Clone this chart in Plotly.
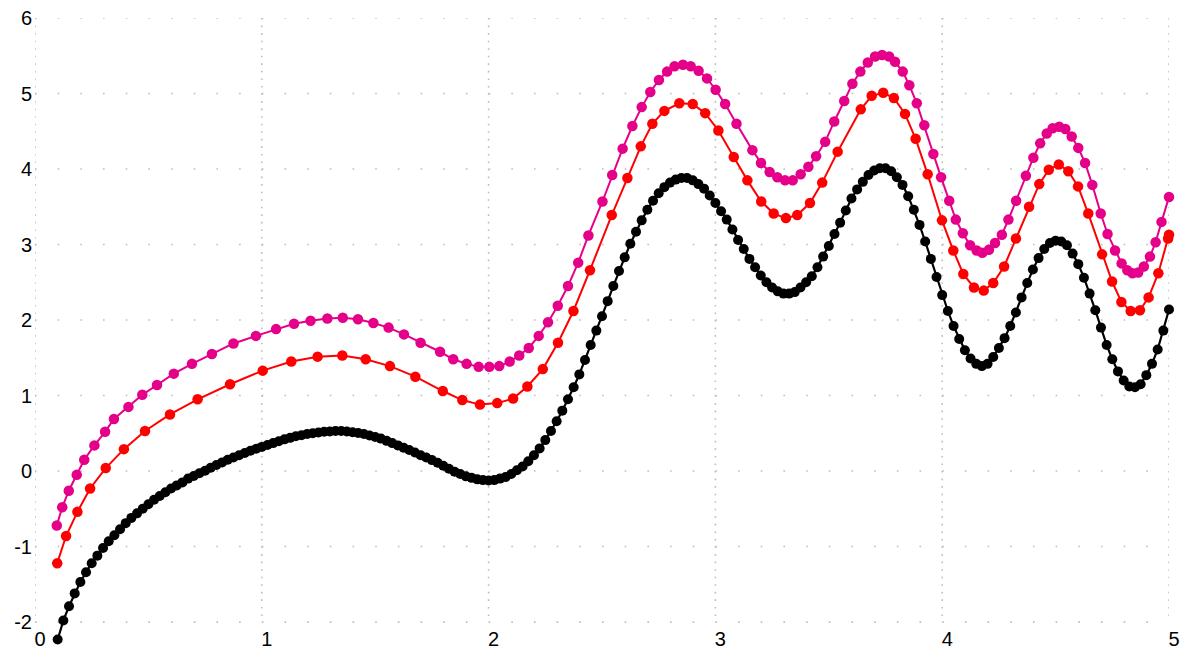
import plotly.graph_objects as go

# ---------------- data ----------------
# black series: uniformly sampled, first x = 0.1, step 0.025, last x = 5.0
black_x0 = 0.1
black_dx = 0.025
black_y = [
    -2.23, -1.98, -1.79, -1.62, -1.47, -1.34, -1.22, -1.12, -1.02, -0.93,
    -0.85, -0.77, -0.69, -0.62, -0.56, -0.50, -0.44, -0.38, -0.33, -0.28,
    -0.23, -0.19, -0.15, -0.10, -0.065, -0.03, 0.005, 0.045, 0.08, 0.115,
    0.15, 0.18, 0.21, 0.24, 0.27, 0.295,
    0.32, 0.345, 0.37, 0.395, 0.42, 0.44, 0.46, 0.475, 0.49, 0.50,
    0.51, 0.52, 0.525, 0.53, 0.53, 0.525, 0.515, 0.505, 0.49, 0.47,
    0.45, 0.43, 0.40, 0.37, 0.34, 0.31, 0.28, 0.245, 0.21, 0.18,
    0.145, 0.11, 0.07, 0.03, -0.01, -0.04, -0.07, -0.09, -0.11, -0.12,
    -0.125, -0.12, -0.10, -0.08, -0.04, 0.01, 0.06, 0.13, 0.21, 0.30,
    0.41, 0.53, 0.66, 0.80, 0.95, 1.11, 1.28, 1.47, 1.67, 1.86,
    2.05, 2.25, 2.45, 2.65, 2.83, 3.01, 3.17, 3.32, 3.46, 3.58,
    3.68, 3.76, 3.82, 3.86, 3.88, 3.88, 3.85, 3.80, 3.74, 3.65,
    3.55, 3.44, 3.33, 3.20, 3.06, 2.94, 2.81, 2.70, 2.59, 2.50,
    2.43, 2.38, 2.35, 2.35, 2.37, 2.43, 2.50, 2.58, 2.70, 2.84,
    2.98, 3.14, 3.29, 3.45, 3.61, 3.73, 3.83, 3.92, 3.98, 4.01,
    4.01, 3.97, 3.89, 3.79, 3.64, 3.46, 3.26, 3.04, 2.81, 2.57,
    2.33, 2.12, 1.92, 1.75, 1.60, 1.49, 1.42, 1.39, 1.42, 1.51,
    1.63, 1.76, 1.92, 2.10, 2.30, 2.49, 2.67, 2.82, 2.94, 3.02,
    3.05, 3.04, 2.99, 2.88, 2.74, 2.56, 2.35, 2.13, 1.90, 1.67,
    1.48, 1.32, 1.20, 1.12, 1.11, 1.15, 1.27, 1.42, 1.61, 1.86,
    2.14,
]

red_x = [
    0.098, 0.137, 0.187, 0.243, 0.312, 0.392, 0.485, 0.595, 0.717, 0.86,
    1.004, 1.13, 1.246, 1.355, 1.458, 1.565, 1.677, 1.798, 1.884, 1.962,
    2.038, 2.108, 2.171, 2.239, 2.306, 2.374, 2.447, 2.543, 2.612, 2.671,
    2.722, 2.775, 2.841, 2.9, 2.955, 3.013, 3.081, 3.141, 3.202, 3.257,
    3.311, 3.361, 3.417, 3.471, 3.539, 3.641, 3.689, 3.74, 3.787, 3.836,
    3.883, 3.936, 3.999, 4.049, 4.093, 4.14, 4.183, 4.225, 4.273, 4.325,
    4.383, 4.428, 4.47, 4.514, 4.556, 4.599, 4.644, 4.705, 4.749, 4.79,
    4.831, 4.872, 4.91, 4.953, 4.996, 5.0,
]
red_y = [
    -1.22, -0.86, -0.54, -0.23, 0.04, 0.29, 0.53, 0.75, 0.95, 1.15,
    1.33, 1.45, 1.515, 1.53, 1.48, 1.39, 1.25, 1.06, 0.94, 0.88,
    0.90, 0.96, 1.12, 1.35, 1.70, 2.12, 2.66, 3.39, 3.88, 4.30,
    4.60, 4.77, 4.87, 4.86, 4.74, 4.51, 4.16, 3.85, 3.57, 3.41,
    3.35, 3.39, 3.55, 3.82, 4.23, 4.79, 4.97, 5.01, 4.94, 4.73,
    4.40, 3.93, 3.32, 2.92, 2.61, 2.43, 2.39, 2.49, 2.71, 3.08,
    3.50, 3.80, 3.99, 4.06, 3.97, 3.77, 3.41, 2.87, 2.51, 2.24,
    2.12, 2.13, 2.30, 2.62, 3.08, 3.13,
]

magenta_x = [
    0.096, 0.12, 0.149, 0.184, 0.217, 0.262, 0.309, 0.348, 0.412, 0.473,
    0.538, 0.612, 0.692, 0.78, 0.875, 0.974, 1.063, 1.142, 1.215, 1.289,
    1.357, 1.424, 1.492, 1.559, 1.627, 1.70, 1.786, 1.844, 1.903, 1.956,
    2.003, 2.047, 2.093, 2.135, 2.177, 2.221, 2.262, 2.305, 2.35, 2.395,
    2.44, 2.502, 2.545, 2.591, 2.634, 2.675, 2.713, 2.751, 2.787, 2.82,
    2.857, 2.891, 2.926, 2.963, 3.001, 3.043, 3.093, 3.163, 3.201, 3.239,
    3.273, 3.307, 3.341, 3.376, 3.41, 3.444, 3.484, 3.524, 3.568, 3.604,
    3.639, 3.672, 3.704, 3.735, 3.766, 3.792, 3.826, 3.855, 3.888, 3.921,
    3.961, 3.995, 4.031, 4.06, 4.091, 4.123, 4.152, 4.177, 4.206, 4.233,
    4.263, 4.292, 4.326, 4.369, 4.402, 4.432, 4.461, 4.487, 4.516, 4.543,
    4.571, 4.6, 4.63, 4.662, 4.699, 4.729, 4.762, 4.791, 4.816, 4.839,
    4.864, 4.889, 4.916, 4.941, 4.967, 5.0,
]
magenta_y = [
    -0.72, -0.48, -0.26, -0.05, 0.15, 0.34, 0.52, 0.69, 0.85, 1.01,
    1.14, 1.29, 1.42, 1.55, 1.69, 1.79, 1.88, 1.95, 1.99, 2.02,
    2.03, 2.01, 1.96, 1.90, 1.81, 1.70, 1.58, 1.48, 1.42, 1.38,
    1.38, 1.39, 1.45, 1.53, 1.63, 1.79, 1.97, 2.19, 2.45, 2.76,
    3.12, 3.57, 3.92, 4.27, 4.57, 4.82, 5.02, 5.18, 5.29, 5.36,
    5.38, 5.36, 5.30, 5.20, 5.05, 4.86, 4.60, 4.25, 4.08, 3.96,
    3.89, 3.85, 3.85, 3.93, 4.03, 4.17, 4.36, 4.63, 4.90, 5.13,
    5.29, 5.41, 5.49, 5.51, 5.49, 5.42, 5.29, 5.11, 4.87, 4.58,
    4.20, 3.89, 3.58, 3.33, 3.15, 2.99, 2.92, 2.89, 2.93, 3.02,
    3.13, 3.33, 3.58, 3.91, 4.15, 4.34, 4.47, 4.54, 4.56, 4.53,
    4.43, 4.28, 4.08, 3.79, 3.41, 3.14, 2.92, 2.75, 2.66, 2.62,
    2.63, 2.71, 2.84, 3.03, 3.30, 3.63,
]

x_ticks = [0, 1, 2, 3, 4, 5]
y_ticks = [-2, -1, 0, 1, 2, 3, 4, 5, 6]

# ---------------- figure ----------------
BLACK = "#000000"
RED = "#ff0000"
MAGENTA = "#e5008a"

W, H = 1184, 649
X_MIN, X_MAX = 0, 5
Y_MIN, Y_MAX = -2, 6
Y_EXTRA = 0.33              # room below y=-2 so the first black point is kept
ML, MR, MT = 35, 15, 18
unit_y = (H - MT - 27) / (Y_MAX - Y_MIN)       # px per y unit (y=-2 at 27px above bottom)
MB = 27 - Y_EXTRA * unit_y
unit_x = (W - ML - MR) / (X_MAX - X_MIN)
y_lo = Y_MIN - Y_EXTRA

fig = go.Figure()

fig.add_trace(go.Scatter(
    x0=black_x0, dx=black_dx, y=black_y, mode="lines+markers",
    line=dict(color=BLACK, width=2.2),
    marker=dict(color=BLACK, size=10),
    cliponaxis=False, showlegend=False,
))
fig.add_trace(go.Scatter(
    x=red_x, y=red_y, mode="lines+markers",
    line=dict(color=RED, width=2),
    marker=dict(color=RED, size=10.5),
    cliponaxis=False, showlegend=False,
))
fig.add_trace(go.Scatter(
    x=magenta_x, y=magenta_y, mode="lines+markers",
    line=dict(color=MAGENTA, width=2),
    marker=dict(color=MAGENTA, size=10.5),
    cliponaxis=False, showlegend=False,
))

# dotted grid: one dot every 0.1 unit along each integer line
grid_col = "#bdbdbd"
dot = 1.6
h_dash = f"{dot}px,{unit_x / 10 - dot:.3f}px"
v_dash = f"{dot}px,{unit_y / 10 - dot:.3f}px"
shapes = []
for yv in y_ticks:
    shapes.append(dict(type="line", xref="x", yref="y", x0=X_MIN, x1=X_MAX, y0=yv, y1=yv,
                       line=dict(color=grid_col, width=dot, dash=h_dash), layer="below"))
for xv in x_ticks:
    shapes.append(dict(type="line", xref="x", yref="y", x0=xv, x1=xv, y0=Y_MAX, y1=Y_MIN,
                       line=dict(color=grid_col, width=dot, dash=v_dash), layer="below"))

font = dict(family="Liberation Sans, Arial, Helvetica, sans-serif", size=20, color="#000000")

fig.update_layout(
    width=W, height=H,
    margin=dict(l=ML, r=MR, t=MT, b=MB, pad=0),
    paper_bgcolor="white", plot_bgcolor="white",
    font=font,
    shapes=shapes,
    xaxis=dict(
        range=[X_MIN, X_MAX], tickvals=x_ticks, ticktext=[str(v) for v in x_ticks],
        showgrid=False, zeroline=False, showline=False, ticks="",
        anchor="free", position=Y_EXTRA / (Y_MAX - y_lo),
        tickfont=font, ticklabelshift=5, ticklabelstandoff=3,
        automargin=False, fixedrange=True,
    ),
    yaxis=dict(
        range=[y_lo, Y_MAX], tickvals=y_ticks, ticktext=[str(v) for v in y_ticks],
        showgrid=False, zeroline=False, showline=False, ticks="",
        tickfont=font, ticklabelstandoff=2,
        automargin=False, fixedrange=True,
    ),
)

fig.write_html(
    "out.html",
    config={"displayModeBar": False},
    post_script="document.body.style.margin='0';document.body.style.overflow='hidden';",
)
